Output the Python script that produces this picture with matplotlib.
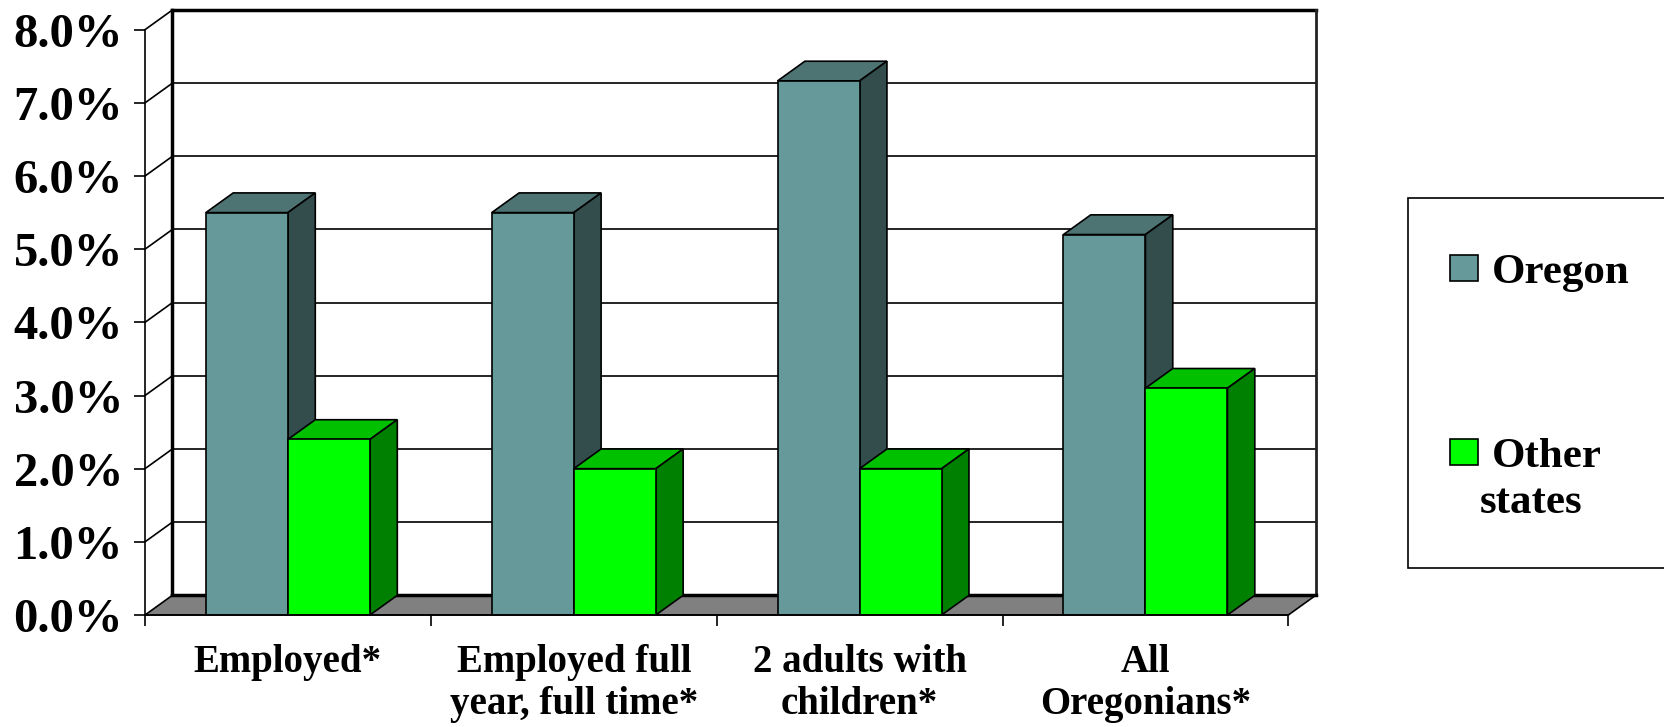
import matplotlib
matplotlib.use("Agg")
import matplotlib.pyplot as plt
from matplotlib.patches import Polygon, Rectangle

categories = ["Employed*", "Employed full\nyear, full time*",
              "2 adults with\nchildren*", "All\nOregonians*"]
oregon = [5.5, 5.5, 7.3, 5.2]
other_states = [2.4, 2.0, 2.0, 3.1]
series_names = ["Oregon", "Other\nstates"]
yticks = [0, 1, 2, 3, 4, 5, 6, 7, 8]

W, H = 1664, 727
DX, DY = 0.0957, 0.269      # depth of the box, in category / percent units
BAR_W = 0.287
LW = 1.2

# front, top, side shades for each series
shades = [("#669999", "#4d7473", "#334d4d"),
          ("#00ff00", "#00c000", "#008000")]

plt.rcParams["font.family"] = "Liberation Serif"
plt.rcParams["font.weight"] = "bold"

fig = plt.figure(figsize=(W / 100, H / 100), dpi=100)


def fx(x):
    return x / W


def fy(y):
    return 1 - y / H


ax = fig.add_axes([fx(145), fy(615), (1315.7 - 145) / W, (615 - 10) / H])
n = len(categories)
top = yticks[-1]
ax.set_xlim(0, n + DX)
ax.set_ylim(0, top + DY)

for s in ["top", "right"]:
    ax.spines[s].set_visible(False)
ax.spines["left"].set_bounds(0, top)
ax.spines["bottom"].set_bounds(0, n)
for s in ["left", "bottom"]:
    ax.spines[s].set_linewidth(LW)
    ax.spines[s].set_zorder(20)

ax.set_yticks(yticks, [f"{v:.1f}%" for v in yticks])
ax.tick_params(axis="y", length=7.9, width=LW, pad=8, labelsize=35)
ax.set_xticks([i + 0.5 for i in range(n)], categories)
ax.set_xticks(range(n + 1), minor=True)
ax.tick_params(axis="x", which="major", length=0, pad=21, labelsize=28)
ax.tick_params(axis="x", which="minor", length=7.9, width=LW)
for lab in ax.get_xticklabels():
    lab.set_linespacing(1.18)

# floor
ax.add_patch(Polygon([(0, 0), (n, 0), (n + DX, DY), (DX, DY)], closed=True,
                     fc="#808080", ec="black", lw=LW, zorder=1, clip_on=False))
ax.plot([DX, n + DX], [DY, DY], color="black", lw=2.5, zorder=1.5, clip_on=False)

# back wall gridlines and side wall diagonals
for v in yticks[1:]:
    ax.plot([DX, n + DX], [v + DY, v + DY], color="black",
            lw=2.5 if v == top else LW, zorder=0.5, clip_on=False)
    ax.plot([0, DX], [v, v + DY], color="black", lw=LW, zorder=0.5, clip_on=False)
ax.plot([DX, DX], [DY, top + DY], color="black", lw=2.5, zorder=0.6, clip_on=False)
ax.plot([n + DX, n + DX], [DY, top + DY], color="#222222", lw=2, zorder=0.6,
        clip_on=False)

# 3-D looking columns
for i in range(n):
    for j, vals in enumerate([oregon, other_states]):
        v = vals[i]
        front, lid, side = shades[j]
        x0 = i + 0.5 - BAR_W + j * BAR_W
        z = 3 + j
        ax.bar(x0, v, width=BAR_W, align="edge", color=front, edgecolor="black",
               lw=LW, zorder=z + 0.2)
        ax.add_patch(Polygon([(x0, v), (x0 + BAR_W, v), (x0 + BAR_W + DX, v + DY),
                              (x0 + DX, v + DY)], closed=True, fc=lid, ec="black",
                             lw=LW, zorder=z, clip_on=False))
        ax.add_patch(Polygon([(x0 + BAR_W, 0), (x0 + BAR_W + DX, DY),
                              (x0 + BAR_W + DX, v + DY), (x0 + BAR_W, v)], closed=True,
                             fc=side, ec="black", lw=LW, zorder=z, clip_on=False))

# legend box
fig.add_artist(Rectangle((fx(1408.3), fy(568.3)), (1670 - 1408.3) / W, (568.3 - 198.3) / H,
                         transform=fig.transFigure, fc="white", ec="black", lw=LW))
key_y = [267.5, 451.5]       # square centres
text_base = [283, 467]       # first-line baselines
for j, name in enumerate(series_names):
    y = key_y[j]
    fig.add_artist(Rectangle((fx(1450), fy(y + 13)), 27.5 / W, 26 / H,
                             transform=fig.transFigure, fc=shades[j][0],
                             ec="black", lw=LW))
    for k, line in enumerate(name.split("\n")):
        fig.text(fx(1491.7 - 12 * (k > 0)), fy(text_base[j] + 46 * k), line,
                 fontsize=31, ha="left", va="baseline")

fig.savefig("out.png", dpi=100)
